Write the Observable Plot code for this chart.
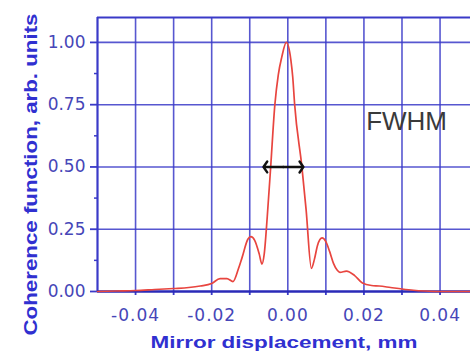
<!DOCTYPE html>
<html>
<head>
<meta charset="utf-8">
<script src="https://cdn.jsdelivr.net/npm/d3@7"></script>
<script src="https://cdn.jsdelivr.net/npm/@observablehq/plot@0.6"></script>
<style>
  html, body { margin: 0; padding: 0; background: #fff; overflow: hidden; }
</style>
</head>
<body>
<div id="chart"></div>
<script>
// ---- data ----
const xDomain = [-0.05, 0.048];
const yDomain = [0, 1.1];
const curveX = [-0.05, -0.045, -0.04, -0.035, -0.03, -0.026, -0.023, -0.02, -0.0178, -0.016, -0.0144, -0.013, -0.012, -0.0105, -0.0097, -0.0087, -0.0075, -0.0068, -0.0062, -0.0054, -0.0045, -0.0034, -0.0025, -0.0016, -0.0004, 0.0008, 0.0013, 0.0018, 0.0037, 0.0048, 0.0062, 0.007, 0.0078, 0.009, 0.010, 0.011, 0.012, 0.013, 0.0137, 0.0154, 0.0175, 0.0196, 0.022, 0.024, 0.027, 0.030, 0.033, 0.036, 0.040, 0.048];
const curveY = [0.0, 0.002, 0.004, 0.008, 0.012, 0.016, 0.022, 0.032, 0.052, 0.052, 0.040, 0.09, 0.137, 0.21, 0.22, 0.205, 0.15, 0.11, 0.15, 0.30, 0.50, 0.75, 0.87, 0.94, 1.0, 0.93, 0.86, 0.75, 0.50, 0.33, 0.093, 0.13, 0.185, 0.215, 0.20, 0.16, 0.113, 0.085, 0.077, 0.082, 0.065, 0.034, 0.024, 0.022, 0.016, 0.010, 0.005, 0.002, 0.0, 0.0];
const xTicks = [-0.04, -0.02, 0.00, 0.02, 0.04];
const xMinorTicks = [-0.03, -0.01, 0.01, 0.03];
const xGrid = [-0.04, -0.03, -0.02, -0.01, 0.00, 0.01, 0.02, 0.03, 0.04];
const yTicks = [0.00, 0.25, 0.50, 0.75, 1.00];
const yMinorTicks = [0.125, 0.375, 0.625, 0.875];
const yGrid = [0.25, 0.50, 0.75, 1.00];
const xLabel = "Mirror displacement, mm";
const yLabel = "Coherence function, arb. units";
const annotText = ["FWHM"];
const annotX = [0.0312];
const annotY = [0.68];
const fwhmCenter = [-0.0012];
const fwhmEnds = [-0.0064, 0.0041];
const fwhmLevel = [0.5];

const curve = curveX.map((x, i) => ({x, y: curveY[i]}));
const arrows = fwhmEnds.map(e => ({x1: fwhmCenter[0], x2: e, y: fwhmLevel[0]}));
const annot = annotText.map((t, i) => ({t, x: annotX[i], y: annotY[i]}));

const blue = "#3a3ac8";
const labelBlue = "#4646b8";
const titleBlue = "#3030d0";

const chart = Plot.plot({
  width: 470,
  height: 355,
  marginLeft: 97,
  marginRight: 0,
  marginTop: 17,
  marginBottom: 64,
  style: {fontFamily: "DejaVu Sans", fontSize: "17px", background: "#fff"},
  x: {domain: xDomain},
  y: {domain: yDomain},
  marks: [
    Plot.ruleX(xGrid, {stroke: blue, strokeWidth: 1.6, strokeOpacity: 0.85}),
    Plot.ruleY(yGrid, {stroke: blue, strokeWidth: 1.6, strokeOpacity: 0.85}),
    Plot.ruleY([yDomain[1]], {stroke: blue, strokeWidth: 2}),
    Plot.ruleX([xDomain[0]], {stroke: blue, strokeWidth: 2.2}),
    Plot.axisY({ticks: yTicks, tickFormat: d => d.toFixed(2), tickSize: 7, tickPadding: 5,
      stroke: blue, strokeWidth: 1.8, fill: labelBlue, fontSize: 17,
      label: yLabel, labelAnchor: "center", labelOffset: 73, labelArrow: "none"}),
    Plot.axisY({ticks: yMinorTicks, tickFormat: () => "", tickSize: 3, stroke: blue, strokeWidth: 1.5, label: null}),
    Plot.axisX({ticks: xTicks, tickFormat: d => d.toFixed(2), tickSize: 4, tickPadding: 13,
      stroke: blue, strokeWidth: 1.8, fill: labelBlue, fontSize: 17,
      label: xLabel, labelAnchor: "center", labelOffset: 56, labelArrow: "none"}),
    Plot.axisX({ticks: xMinorTicks, tickFormat: () => "", tickSize: 4, stroke: blue, strokeWidth: 1.8, label: null}),
    Plot.ruleY([0], {stroke: "#2a2ab8", strokeWidth: 2.4}),
    Plot.line(curve, {x: "x", y: "y", stroke: "#e8453f", strokeWidth: 1.7, curve: "monotone-x"}),
    Plot.arrow(arrows, {x1: "x1", x2: "x2", y1: "y", y2: "y", stroke: "#111", strokeWidth: 2.4, headLength: 13, headAngle: 110}),
    Plot.text(annot, {x: "x", y: "y", text: "t", fontSize: 26, fill: "#3a3a3a", fontFamily: "Liberation Sans"})
  ]
});

document.getElementById("chart").appendChild(chart);

// stretch axis titles to match reference lengths
const svg = d3.select(chart);
svg.selectAll('g[aria-label="y-axis label"] text')
  .attr("font-weight", "bold").attr("fill", titleBlue).attr("font-family", "Liberation Sans")
  .attr("font-size", 18).attr("textLength", 322).attr("lengthAdjust", "spacingAndGlyphs")
  .attr("dx", -20);
svg.selectAll('g[aria-label="x-axis label"] text')
  .attr("font-weight", "bold").attr("fill", titleBlue).attr("font-family", "Liberation Sans")
  .attr("font-size", 16).attr("textLength", 267).attr("lengthAdjust", "spacingAndGlyphs");
svg.selectAll('g[aria-label="x-axis tick label"] text').attr("letter-spacing", "1");
</script>
</body>
</html>
